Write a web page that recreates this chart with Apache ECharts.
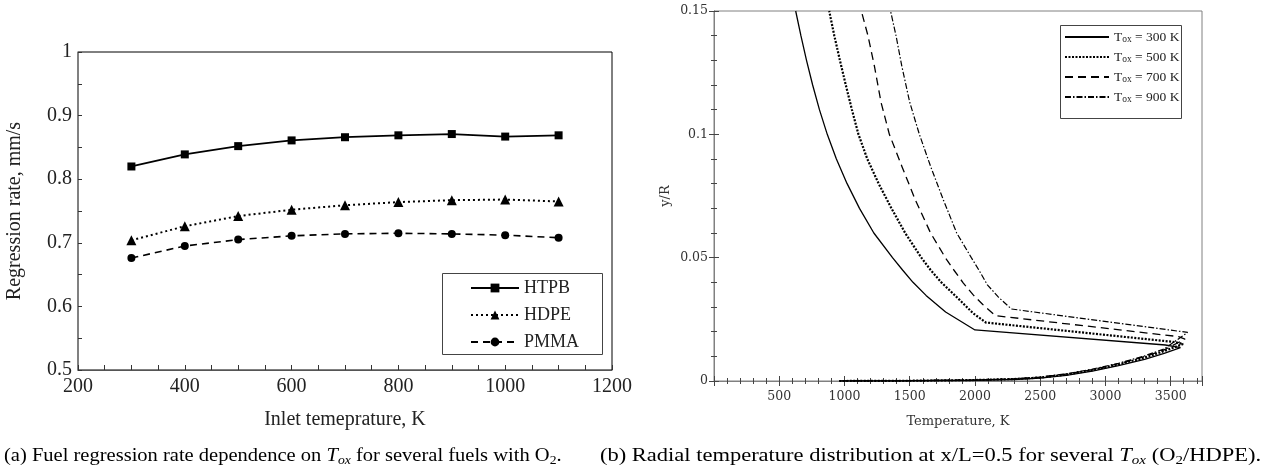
<!DOCTYPE html>
<html>
<head>
<meta charset="utf-8">
<script src="https://cdn.jsdelivr.net/npm/echarts@6/dist/echarts.min.js"></script>
<style>
html,body{margin:0;padding:0;background:#fff;}
#c{width:1267px;height:474px;}
</style>
</head>
<body>
<div id="c"></div>
<script>
// ---- Chart (a) data ----
const inletT = [300, 400, 500, 600, 700, 800, 900, 1000, 1100];
const htpb = [0.820, 0.839, 0.852, 0.861, 0.866, 0.869, 0.871, 0.867, 0.869];
const hdpe = [0.704, 0.726, 0.742, 0.752, 0.759, 0.764, 0.767, 0.768, 0.765];
const pmma = [0.676, 0.695, 0.705, 0.711, 0.714, 0.715, 0.714, 0.712, 0.708];
const fuelNames = ['HTPB', 'HDPE', 'PMMA'];

// ---- Chart (b) data: [Temperature K, y/R] ordered from the wall ----
const tox300 = [[985,0],[1500,0.0001],[2000,0.0003],[2300,0.0006],[2500,0.0012],[2700,0.0023],[2900,0.0040],[3100,0.0062],[3300,0.0088],[3450,0.0112],[3575,0.0135],[3460,0.0146],[2000,0.0207],[1775,0.028],[1625,0.0347],[1525,0.040],[1445,0.045],[1368,0.05],[1225,0.06],[1115,0.07],[1020,0.08],[938,0.09],[868,0.1],[808,0.11],[756,0.12],[709,0.13],[666,0.14],[626,0.15]];
const tox500 = [[960,0],[1500,0.0001],[2000,0.0004],[2300,0.0008],[2500,0.0014],[2700,0.0026],[2900,0.0044],[3100,0.0067],[3300,0.0095],[3450,0.0121],[3595,0.0150],[3530,0.0158],[2084,0.0237],[1985,0.0275],[1880,0.033],[1742,0.040],[1660,0.045],[1589,0.05],[1465,0.06],[1360,0.07],[1262,0.08],[1175,0.09],[1107,0.1],[1057,0.11],[1010,0.12],[965,0.13],[922,0.14],[883,0.15]];
const tox700 = [[960,0],[1500,0.0001],[2000,0.0004],[2300,0.0008],[2500,0.0015],[2700,0.0028],[2900,0.0046],[3100,0.0070],[3300,0.0099],[3450,0.0126],[3610,0.0170],[3560,0.0180],[2156,0.0265],[2060,0.031],[1985,0.035],[1911,0.0397],[1838,0.045],[1773,0.05],[1660,0.06],[1543,0.0734],[1440,0.087],[1344,0.1],[1280,0.113],[1230,0.1275],[1180,0.14],[1129,0.15]];
const tox900 = [[960,0],[1500,0.0001],[2000,0.0004],[2300,0.0009],[2500,0.0016],[2700,0.0029],[2900,0.0048],[3100,0.0072],[3300,0.0102],[3450,0.0130],[3630,0.0197],[2279,0.0292],[2180,0.034],[2095,0.039],[2030,0.045],[1972,0.05],[1860,0.06],[1758,0.0734],[1660,0.087],[1574,0.1],[1500,0.113],[1440,0.1275],[1395,0.14],[1353,0.15]];
const toxNames = ['Tox = 300 K', 'Tox = 500 K', 'Tox = 700 K', 'Tox = 900 K'];

const serifA = 'Liberation Serif';
const serifB = 'DejaVu Serif';
const gray = '#808080';
const plain = v => String(+v.toFixed(4));

function pairs(xs, ys){ return xs.map((x,i)=>[x, ys[i]]); }

const chart = echarts.init(document.getElementById('c'), null, {renderer:'canvas'});

const capRich = {
  i: {fontFamily: serifA, fontSize: 18, fontStyle: 'italic', lineHeight: 22},
  si: {fontFamily: serifA, fontSize: 12, fontStyle: 'italic', lineHeight: 12, verticalAlign: 'bottom'},
  s: {fontFamily: serifA, fontSize: 12, lineHeight: 12, verticalAlign: 'bottom'}
};
const rightCommon = {
  axisLine: {lineStyle: {color: gray}},
  axisTick: {inside: true, length: 5, lineStyle: {color: '#444'}},
  minorTick: {show: true, splitNumber: 5, length: 3, lineStyle: {color: '#444'}},
  splitLine: {show: false}
};

const option = {
  backgroundColor: '#fff',
  animation: false,
  grid: [
    {left: 78, top: 52, width: 534, height: 318, show: true, borderColor: '#000', borderWidth: 1, backgroundColor: 'transparent'},
    {left: 714, top: 11, width: 488, height: 370, show: true, borderColor: gray, borderWidth: 1, backgroundColor: 'transparent'}
  ],
  xAxis: [
    {gridIndex: 0, type: 'value', min: 200, max: 1200, interval: 200,
     name: 'Inlet temeprature, K', nameLocation: 'middle', nameGap: 40,
     nameTextStyle: {fontFamily: serifA, fontSize: 20, color: '#222'},
     axisLine: {lineStyle: {color: '#555', width: 1}},
     axisTick: {inside: true, length: 5, lineStyle: {color: '#333'}},
     minorTick: {show: true, splitNumber: 4, length: 5, lineStyle: {color: '#333'}},
     splitLine: {show: false},
     axisLabel: {fontFamily: serifA, fontSize: 20, color: '#222', margin: 7, formatter: plain}},
    Object.assign({gridIndex: 1, type: 'value', min: 0, max: 3740, interval: 500,
     name: 'Temperature, K', nameLocation: 'middle', nameGap: 34,
     nameTextStyle: {fontFamily: serifB, fontSize: 13, color: '#333'},
     axisLabel: {fontFamily: serifB, fontSize: 12.5, color: '#333', margin: 9, showMinLabel: false, showMaxLabel: false, formatter: plain}}, rightCommon),
    Object.assign({gridIndex: 1, type: 'value', min: 0, max: 3740, interval: 500, position: 'top',
     axisLabel: {show: false}}, rightCommon)
  ],
  yAxis: [
    {gridIndex: 0, type: 'value', min: 0.5, max: 1, interval: 0.1,
     name: 'Regression rate, mm/s', nameLocation: 'middle', nameGap: 53,
     nameTextStyle: {fontFamily: serifA, fontSize: 20, color: '#222'},
     axisLine: {lineStyle: {color: gray, width: 1.5}},
     axisTick: {inside: true, length: 4, lineStyle: {color: '#333'}},
     minorTick: {show: true, splitNumber: 2, length: 4, lineStyle: {color: '#333'}},
     splitLine: {show: false},
     axisLabel: {fontFamily: serifA, fontSize: 20, color: '#222', margin: 6, formatter: plain}},
    Object.assign({gridIndex: 1, type: 'value', min: 0, max: 0.15, interval: 0.05,
     name: 'y/R', nameLocation: 'middle', nameGap: 42,
     nameTextStyle: {fontFamily: serifB, fontSize: 13, color: '#333'},
     axisLabel: {fontFamily: serifB, fontSize: 12.5, color: '#333', margin: 6, formatter: plain}}, rightCommon),
    Object.assign({gridIndex: 1, type: 'value', min: 0, max: 0.15, interval: 0.05, position: 'right',
     axisLabel: {show: false}}, rightCommon)
  ],
  legend: [
    {data: fuelNames, orient: 'vertical', left: 470, top: 279,
     padding: 0, itemGap: 9, itemWidth: 48, itemHeight: 11,
     textStyle: {fontFamily: serifA, fontSize: 18, color: '#222'}},
    {data: toxNames, orient: 'vertical', left: 1064, top: 30,
     padding: 0, itemGap: 6, itemWidth: 44, itemHeight: 8,
     itemStyle: {opacity: 0},
     formatter: function(n){ return '{t|T}{s|ox}{t|' + n.slice(3) + '}'; },
     textStyle: {fontFamily: serifA, fontSize: 13.5, color: '#222',
       rich: {t: {fontFamily: serifA, fontSize: 13.5, color: '#222'},
              s: {fontFamily: serifA, fontSize: 9.5, color: '#222', lineHeight: 9, verticalAlign: 'bottom'}}}}
  ],
  series: [
    {name: 'HTPB', type: 'line', xAxisIndex: 0, yAxisIndex: 0, data: pairs(inletT, htpb),
     symbol: 'rect', symbolSize: 8, lineStyle: {color: '#000', width: 1.8, type: 'solid'},
     itemStyle: {color: '#000'}},
    {name: 'HDPE', type: 'line', xAxisIndex: 0, yAxisIndex: 0, data: pairs(inletT, hdpe),
     symbol: 'triangle', symbolSize: 10, lineStyle: {color: '#000', width: 2, type: [2, 3]},
     itemStyle: {color: '#000'}},
    {name: 'PMMA', type: 'line', xAxisIndex: 0, yAxisIndex: 0, data: pairs(inletT, pmma),
     symbol: 'circle', symbolSize: 8, lineStyle: {color: '#000', width: 1.6, type: [7, 5]},
     itemStyle: {color: '#000'}},
    {name: toxNames[0], type: 'line', xAxisIndex: 1, yAxisIndex: 1, data: tox300, symbol: 'none',
     lineStyle: {color: '#000', width: 1.3, type: 'solid'}, itemStyle: {color: '#000'}},
    {name: toxNames[1], type: 'line', xAxisIndex: 1, yAxisIndex: 1, data: tox500, symbol: 'none',
     lineStyle: {color: '#000', width: 2.2, type: [2, 1.5]}, itemStyle: {color: '#000'}},
    {name: toxNames[2], type: 'line', xAxisIndex: 1, yAxisIndex: 1, data: tox700, symbol: 'none',
     lineStyle: {color: '#000', width: 1.3, type: [8, 5]}, itemStyle: {color: '#000'}},
    {name: toxNames[3], type: 'line', xAxisIndex: 1, yAxisIndex: 1, data: tox900, symbol: 'none',
     lineStyle: {color: '#000', width: 1.2, type: [6, 2, 1.5, 2]}, itemStyle: {color: '#000'}}
  ],
  graphic: [
    {type: 'rect', shape: {x: 442.5, y: 273.5, width: 160, height: 81}, z: 0,
     style: {fill: '#fff', stroke: '#444', lineWidth: 1}},
    {type: 'rect', shape: {x: 1060.5, y: 25.5, width: 121, height: 93}, z: 0,
     style: {fill: '#fff', stroke: '#444', lineWidth: 1}},
    {type: 'text', x: 4, y: 456, scaleX: 1.14, z: 5, style: {
      text: '(a) Fuel regression rate dependence on {i|T}{si|ox} for several fuels with O{s|2}.',
      fontFamily: serifA, fontSize: 18, fill: '#000', verticalAlign: 'middle', rich: capRich}},
    {type: 'text', x: 1261, y: 456, scaleX: 1.25, z: 5, style: {
      text: '(b) Radial temperature distribution at x/L=0.5 for several {i|T}{si|ox} (O{s|2}/HDPE).',
      fontFamily: serifA, fontSize: 18, fill: '#000', align: 'right', verticalAlign: 'middle', rich: capRich}}
  ]
};
chart.setOption(option);
</script>
</body>
</html>
